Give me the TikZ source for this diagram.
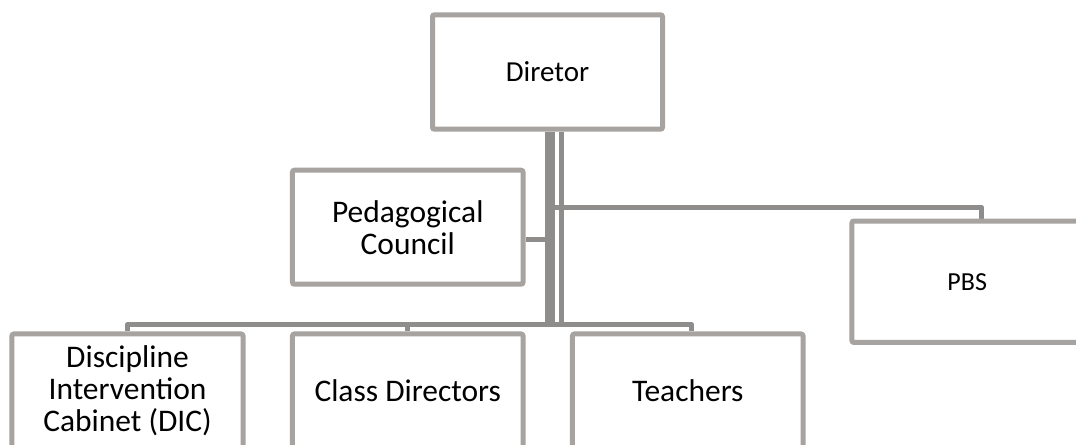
\documentclass[tikz,border=0pt]{standalone}
\usepackage{fontspec}
\setmainfont{Carlito}
\usetikzlibrary{backgrounds}
\definecolor{boxgray}{RGB}{166,163,160}
\definecolor{linegray}{RGB}{142,141,140}
\begin{document}
\begin{tikzpicture}[x=0.75pt,y=-0.75pt,
  orgbox/.style={draw=boxgray, line width=3.75pt, fill=white,
    rounded corners=1.5pt, inner sep=0pt, align=center, text=black,
    minimum width=172.9pt, minimum height=85.5pt,
    font=\fontsize{23.6}{24}\selectfont},
  conn/.style={draw=linegray, line width=3.75pt, line join=round},
  trunkline/.style={draw=linegray, line width=7.5pt},
  thinline/.style={draw=linegray, line width=3.4pt}]
\useasboundingbox (0,0) rectangle (1076,445);
\clip (0,0) rectangle (1076,445);

% top of the chart
\node[orgbox, minimum width=172.5pt, minimum height=85.8pt,
      font=\fontsize{21.75}{24}\selectfont] (dir) at (547.5,72) {Diretor};

% staff units beside the trunk
\node[orgbox] (ped) at (407.75,227.2) {Pedagogical\\Council};
\node[orgbox, minimum height=91.1pt,
      font=\fontsize{19.5}{22}\selectfont] (pbs) at (967.25,281.75) {PBS};

% lower row
\node[orgbox, minimum width=173.3pt] (dic) at (127.5,391)
  {Discipline\\Intervention\\Cabinet (DIC)};
\node[orgbox] (cls) at (407.75,391) {Class Directors};
\node[orgbox] (tea) at (687.75,391) {Teachers};

% junction points of the connectors
\coordinate (trunk) at (550,327);
\coordinate (thin) at (561.7,322);
\coordinate (bus) at (550,324.5);
\coordinate (teadrop) at (691.5,324.5);
\coordinate (pbsjoin) at (555,207.5);
\coordinate (pbsdrop) at (981.7,207.5);
\coordinate (pedjoin) at (545,239.2);

\begin{scope}[on background layer]
  \fill[white] (0,0) rectangle (1076,445);
  \draw[trunkline] (dir.south -| trunk) -- (trunk);
  \draw[thinline] (dir.south -| thin) -- (thin);
  \draw[conn] (dic.north) |- (teadrop) -- (teadrop |- tea.north);
  \draw[conn] (cls.north) -- (cls.north |- bus);
  \draw[conn] (pbsjoin) -- (pbsdrop) -- (pbsdrop |- pbs.north);
  \draw[conn] (pedjoin -| ped.east) -- (pedjoin);
\end{scope}
\end{tikzpicture}
\end{document}
